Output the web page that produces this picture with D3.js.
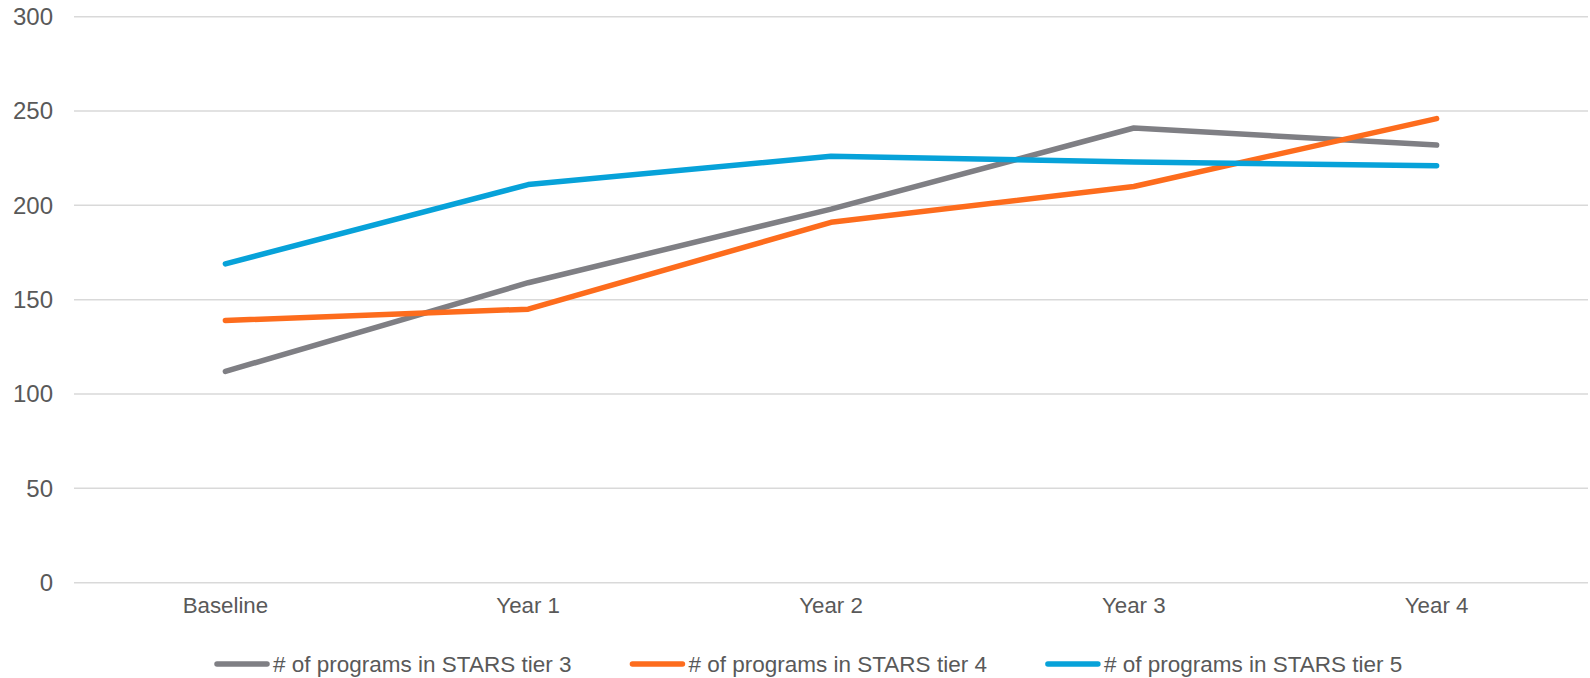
<!DOCTYPE html>
<html>
<head>
<meta charset="utf-8">
<script src="https://cdn.jsdelivr.net/npm/d3@7"></script>
<style>
  html, body { margin: 0; padding: 0; background: #fff; }
  svg { display: block; font-family: "Liberation Sans", Arial, sans-serif; }
</style>
</head>
<body>
<svg id="chart" width="1590" height="678"></svg>
<script>
const categories = ["Baseline", "Year 1", "Year 2", "Year 3", "Year 4"];
const tier3 = [112, 159, 198, 241, 232];
const tier4 = [139, 145, 191, 210, 246];
const tier5 = [169, 211, 226, 223, 221];
const seriesNames = ["# of programs in STARS tier 3", "# of programs in STARS tier 4", "# of programs in STARS tier 5"];
const seriesColors = ["#7f7f84", "#fd6c1d", "#07a2d9"];
const yTicks = [0, 50, 100, 150, 200, 250, 300];

const series = [tier3, tier4, tier5].map((vals, i) => ({ name: seriesNames[i], color: seriesColors[i], values: vals }));

const svg = d3.select("#chart");
const margin = { left: 74, right: 2, top: 16.7, bottom: 95.3 };
const W = 1590, H = 678;

const x = d3.scaleBand().domain(categories).range([margin.left, W - margin.right]);
const y = d3.scaleLinear().domain([0, 300]).range([H - margin.bottom, margin.top]);

// gridlines
svg.append("g")
  .selectAll("line")
  .data(yTicks)
  .join("line")
  .attr("x1", margin.left)
  .attr("x2", W - margin.right)
  .attr("y1", d => y(d))
  .attr("y2", d => y(d))
  .attr("stroke", "#d9d9d9")
  .attr("stroke-width", 1.5);

// y axis labels
const yAxis = svg.append("g")
  .attr("transform", `translate(${margin.left - 21},0)`)
  .call(d3.axisLeft(y).tickValues(yTicks).tickSize(0).tickPadding(0));
yAxis.select(".domain").remove();
yAxis.selectAll("text")
  .attr("font-size", 24)
  .attr("fill", "#595959")
  .attr("font-family", "Liberation Sans, Arial, sans-serif");

// x axis labels
const xAxis = svg.append("g")
  .attr("transform", `translate(0,${y(0)})`)
  .call(d3.axisBottom(x).tickSize(0).tickPadding(14));
xAxis.select(".domain").remove();
xAxis.selectAll("text")
  .attr("font-size", 22.3)
  .attr("fill", "#595959")
  .attr("font-family", "Liberation Sans, Arial, sans-serif");

// lines
const line = d3.line()
  .x((d, i) => x(categories[i]) + x.bandwidth() / 2)
  .y(d => y(d));

svg.append("g")
  .selectAll("path")
  .data(series)
  .join("path")
  .attr("d", d => line(d.values))
  .attr("fill", "none")
  .attr("stroke", d => d.color)
  .attr("stroke-width", 5.5)
  .attr("stroke-linecap", "round")
  .attr("stroke-linejoin", "round");

// legend
const legend = svg.append("g");
let lx = 214;
const ly = 664;
series.forEach(s => {
  const g = legend.append("g");
  g.append("line")
    .attr("x1", lx + 3).attr("x2", lx + 53)
    .attr("y1", ly).attr("y2", ly)
    .attr("stroke", s.color)
    .attr("stroke-width", 5.5)
    .attr("stroke-linecap", "round");
  const t = g.append("text")
    .attr("x", lx + 59)
    .attr("y", ly + 7.5)
    .attr("font-size", 22.5)
    .attr("fill", "#595959")
    .text(s.name);
  const w = t.node().getComputedTextLength();
  lx += 59 + w + 58;
});
</script>
</body>
</html>
